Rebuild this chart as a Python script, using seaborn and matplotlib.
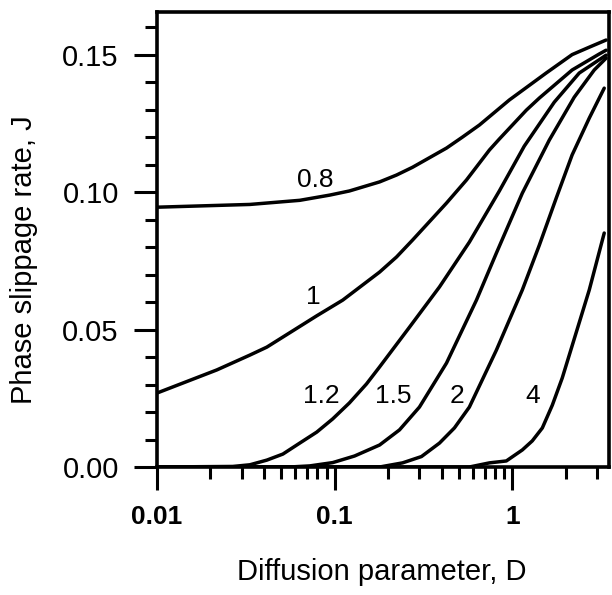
import numpy as np
import pandas as pd
import matplotlib
matplotlib.use("Agg")
import matplotlib.pyplot as plt
import seaborn as sns
from matplotlib.ticker import LogLocator, FixedLocator, MultipleLocator, NullFormatter

# curve values (D on log axis, J linear)
d_08 = [0.01, 0.0333, 0.0636, 0.0938, 0.121, 0.179, 0.223, 0.274, 0.426, 0.524, 0.653, 0.962, 1.55, 2.17, 2.71, 3.37]
j_08 = [0.0945, 0.0955, 0.0970, 0.0989, 0.1004, 0.1037, 0.1062, 0.1090, 0.1160, 0.1200, 0.1244, 0.1335, 0.1433, 0.1500, 0.1527, 0.1553]

d_1 = [0.01, 0.0217, 0.0333, 0.0415, 0.0793, 0.111, 0.179, 0.223, 0.274, 0.426, 0.552, 0.743, 0.845, 1.199, 1.419, 2.17, 3.08, 3.37]
j_1 = [0.0269, 0.0353, 0.0407, 0.0436, 0.0550, 0.0607, 0.0709, 0.0764, 0.0825, 0.0960, 0.1044, 0.1153, 0.1193, 0.1298, 0.1342, 0.1444, 0.1502, 0.1516]

d_12 = [0.01, 0.0267, 0.0333, 0.0415, 0.0511, 0.0636, 0.0793, 0.0975, 0.121, 0.151, 0.179, 0.264, 0.389, 0.573, 0.845, 1.167, 1.722, 2.38, 3.37]
j_12 = [0.0, 0.0002, 0.0008, 0.0025, 0.0047, 0.0087, 0.0127, 0.0175, 0.0233, 0.0302, 0.0364, 0.0509, 0.0655, 0.0818, 0.1004, 0.1167, 0.1327, 0.1433, 0.1498]

d_15 = [0.01, 0.0558, 0.0724, 0.0975, 0.1294, 0.179, 0.2317, 0.300, 0.426, 0.628, 0.813, 1.138, 1.614, 2.23, 2.89, 3.37]
j_15 = [0.0, 0.0, 0.0004, 0.0016, 0.0040, 0.0080, 0.0135, 0.0218, 0.0378, 0.0607, 0.0778, 0.0996, 0.1189, 0.1345, 0.1444, 0.1487]

d_2 = [0.01, 0.179, 0.241, 0.308, 0.389, 0.472, 0.573, 0.813, 1.138, 1.419, 1.766, 2.17, 2.71, 3.29]
j_2 = [0.0, 0.0, 0.0015, 0.0038, 0.0087, 0.0142, 0.0218, 0.0425, 0.0644, 0.0807, 0.0978, 0.1135, 0.1269, 0.1378]

d_4 = [0.01, 0.573, 0.743, 0.925, 1.138, 1.295, 1.475, 1.679, 1.910, 2.71, 3.29]
j_4 = [0.0, 0.0, 0.0015, 0.0022, 0.0062, 0.0095, 0.0142, 0.0225, 0.0324, 0.0644, 0.0851]

curve_names = ["0.8", "1", "1.2", "1.5", "2", "4"]
curve_d = [d_08, d_1, d_12, d_15, d_2, d_4]
curve_j = [j_08, j_1, j_12, j_15, j_2, j_4]

# where each curve label sits (data coords)
label_pos = {
    "0.8": (0.0773, 0.1045),
    "1": (0.0762, 0.0620),
    "1.2": (0.0845, 0.0258),
    "1.5": (0.214, 0.0258),
    "2": (0.491, 0.0258),
    "4": (1.295, 0.0258),
}

df = pd.concat(
    [pd.DataFrame({"D": d, "J": j, "curve": name}) for name, d, j in zip(curve_names, curve_d, curve_j)],
    ignore_index=True,
)

sns.set_style("ticks")
plt.rcParams["font.family"] = ["Liberation Sans", "DejaVu Sans"]
plt.rcParams["text.color"] = "black"

fig = plt.figure(figsize=(6.12, 5.95), dpi=100, facecolor="white")
ax = fig.add_axes([157 / 612, 1 - 467 / 595, (609 - 157) / 612, (467 - 12) / 595])

sns.lineplot(data=df, x="D", y="J", hue="curve", palette=["black"] * 6,
             linewidth=2.5, legend=False, sort=False, ax=ax, estimator=None)

ax.set_xscale("log")
ax.set_xlim(0.01, 3.5)
ax.set_ylim(0.0, 0.1655)

ax.xaxis.set_major_locator(FixedLocator([0.01, 0.1, 1]))
ax.xaxis.set_minor_locator(LogLocator(base=10, subs=np.arange(2, 10)))
ax.xaxis.set_minor_formatter(NullFormatter())
ax.set_xticklabels(["0.01", "0.1", "1"], fontweight="bold", fontsize=19)

ax.yaxis.set_minor_locator(MultipleLocator(0.01))
ax.set_yticks([0.0, 0.05, 0.10, 0.15])
ax.set_yticklabels(["0.00", "0.05", "0.10", "0.15"], fontsize=21)

ax.tick_params(which="major", direction="out", length=16.5, width=2.2, pad=11,
               color="black", labelcolor="black")
ax.tick_params(which="minor", direction="out", length=8.5, width=2.2, color="black")
ax.tick_params(axis="x", which="major", pad=11)

for side in ["left", "right", "top", "bottom"]:
    ax.spines[side].set_visible(True)
    ax.spines[side].set_linewidth(2.6)
    ax.spines[side].set_color("black")

for name, (x, y) in label_pos.items():
    ax.text(x, y, name, fontsize=19, ha="center", va="center", color="black")

ax.set_xlabel("")
ax.set_ylabel("")
fig.text(382 / 612, 1 - 572 / 595, "Diffusion parameter, D", fontsize=21,
         ha="center", va="center", color="black")
fig.text(24 / 612, 1 - 260 / 595, "Phase slippage rate, J", fontsize=21,
         ha="center", va="center", rotation=90, color="black")

fig.savefig("out.png", dpi=100, facecolor="white")
